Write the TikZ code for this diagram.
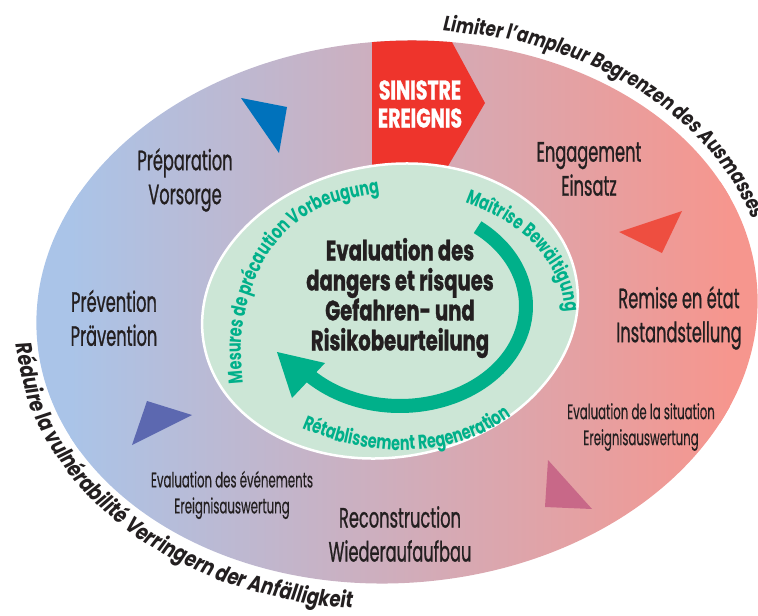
\documentclass[tikz,border=0pt]{standalone}
\usepackage{fontspec}
\usetikzlibrary{decorations.text}
\newfontfamily\lblfont[FakeStretch=0.58,FakeBold=0.8]{Poppins}
\newfontfamily\smallfont[FakeStretch=0.56,FakeBold=0.3]{Poppins}
\newfontfamily\boldcond[FakeStretch=0.7,FakeBold=1]{Poppins}
\newfontfamily\greenfont[FakeStretch=0.72]{Poppins}
\newfontfamily\outerfont[FakeStretch=0.8,FakeSlant=0.12]{Poppins}
\definecolor{bluel}{RGB}{170,196,232}
\definecolor{salmon}{RGB}{246,150,142}
\definecolor{mint}{RGB}{204,230,214}
\definecolor{tgreen}{RGB}{0,176,138}
\definecolor{sinred}{RGB}{238,52,44}
\definecolor{triA}{RGB}{0,114,188}
\definecolor{triB}{RGB}{238,78,64}
\definecolor{triC}{RGB}{200,104,136}
\definecolor{triD}{RGB}{92,104,176}
\definecolor{dark}{RGB}{35,31,32}
\begin{document}
\begin{tikzpicture}[x=1pt,y=-1pt,
  lbl/.style={font=\lblfont\fontsize{28}{34}\selectfont, align=center, text=dark, inner sep=0pt},
  sml/.style={font=\smallfont\fontsize{21}{26}\selectfont, align=center, text=dark, inner sep=0pt},
  ctr/.style={font=\boldcond\bfseries\fontsize{28}{30}\selectfont, align=center, text=dark, inner sep=0pt},
  sinlbl/.style={font=\boldcond\bfseries\fontsize{27}{28}\selectfont, align=center, text=white, inner sep=0pt},
  gtext/.style={decorate, decoration={text along path,
     text={|\color{tgreen}\greenfont\bfseries\fontsize{20}{20}\selectfont|#1}}},
  otext/.style={decorate, decoration={text along path,
     text={|\color{dark}\outerfont\bfseries\fontsize{21}{21}\selectfont|#1}}},
  otextb/.style={decorate, decoration={text along path,
     text={|\color{dark}\outerfont\bfseries\fontsize{22.5}{22.5}\selectfont|#1}}},
  shaft/.style={draw=tgreen, line width=14pt},
]
\useasboundingbox (0,0) rectangle (758,616);
% outer ellipse with gradient and the red event box
\begin{scope}
  \clip[rotate around={4:(397,312)}] (397,312) ellipse [x radius=361, y radius=271];
  \fill[bluel] (30,30) rectangle (80,600);
  \fill[salmon] (720,30) rectangle (758,600);
  \shade[left color=bluel, right color=salmon] (70,30) rectangle (730,600);
  \fill[sinred] (372,20) -- (440,20) -- (485,103) -- (434,190) -- (372,190) -- cycle;
\end{scope}
% inner ellipse
\draw[white, line width=2.5pt, fill=mint, rotate around={10:(390,311)}] (390,311) ellipse [x radius=189, y radius=146];
% triangles
\fill[triA] (241,98) -- (287,107) -- (279,153) -- cycle;
\fill[triB] (619,232) -- (682,211) -- (662,253) -- cycle;
\fill[triC] (548,460) -- (545,507) -- (592,509) -- cycle;
\fill[triD] (147,401) -- (192,415) -- (132,445) -- cycle;
% green circular arrow
\draw[shaft] plot[domain=-52:137, samples=80, smooth] ({400+126*cos(\x)}, {306+100*sin(\x)});
\fill[tgreen] (277,352) -- (325,363) -- (292,398) -- cycle;
% labels
\node[sinlbl] (sin) at (420,104) {SINISTRE\\EREIGNIS};
\node[lbl] (prep) at (185,180) {Préparation\\Vorsorge};
\node[lbl] (prev) at (114,318) {Prévention\\Prävention};
\node[lbl] (eng) at (589,169) {Engagement\\Einsatz};
\node[lbl] (rem) at (679,318) {Remise en état\\Instandstellung};
\node[lbl] (rec) at (400,534) {Reconstruction\\Wiederaufaufbau};
\node[sml] (evsit) at (641,427) {Evaluation de la situation\\Ereignisauswertung};
\node[sml] (evev) at (232,495) {Evaluation des événements\\Ereignisauswertung};
\node[ctr] (center) at (400,298) {Evaluation des\\dangers et risques\\Gefahren- und\\Risikobeurteilung};
% green curved texts
\path[gtext={Mesures de précaution Vorbeugung}] plot[smooth] coordinates {(243,383) (241,340) (249,298) (266,258) (293,226) (330,204) (385,192) (430,193)};
\path[gtext={Maîtrise Bewältigung}] plot[smooth] coordinates {(465,203) (500,218) (530,240) (550,265) (562,290) (566,320) (566,345)};
\path[gtext={Rétablissement Regeneration}] plot[smooth] coordinates {(302,428) (340,442) (390,450) (440,447) (485,432) (527,405) (545,385)};
% outer curved texts
\path[otext={Limiter l’ampleur Begrenzen des Ausmasses}] plot[smooth] coordinates {(442,30.5) (518,41.4) (582.6,62) (640.6,91.7) (689.7,129.3) (728,173.9) (754.2,223.4) (766.6,271.3)};
\path[otextb={Réduire la vulnérabilité Verringern der Anfälligkeit}] plot[smooth] coordinates {(15.4,343.9) (33.3,414.5) (76.5,483.3) (141.5,540.4) (224,582) (318.1,605.1) (417.7,608.3) (483.7,599.2)};
\end{tikzpicture}
\end{document}
